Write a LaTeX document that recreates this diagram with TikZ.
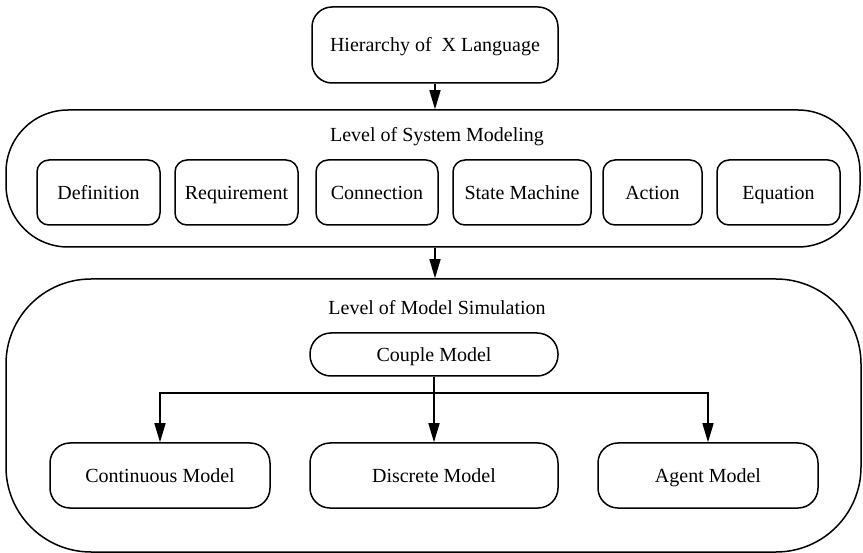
\documentclass[tikz,border=0pt]{standalone}
\usepackage{fontspec}
\setmainfont{Liberation Serif}
\usetikzlibrary{arrows.meta}
\begin{document}
\begin{tikzpicture}[x=1pt,y=-1pt,
  every node/.style={font=\fontsize{20}{22}\selectfont, inner sep=0pt, text height=14pt, text depth=0pt},
  frame/.style={draw, line width=1.5pt, rounded corners=#1},
  level/.style={frame=#1},
  item/.style={frame=12pt, minimum height=65pt},
  model/.style={frame=20pt, minimum width=#1, minimum height=65pt},
  arr/.style={line width=1.5pt, -{Triangle[length=19pt,width=11pt]}}
]
\useasboundingbox (0,0) rectangle (863,553);

% top node
\node[frame=20pt, minimum width=246pt, minimum height=76pt] (top) at (435,45) {Hierarchy of \ X Language};

% level of system modeling
\node[level=62pt, minimum width=854pt, minimum height=137pt] (sys) at (433,178.5) {};
\node (systitle) at (437,135) {Level of System Modeling};
\node[item, minimum width=123pt] (def) at (98.5,192.5) {Definition};
\node[item, minimum width=123pt] (req) at (236.5,192.5) {Requirement};
\node[item, minimum width=122pt] (con) at (377,192.5) {Connection};
\node[item, minimum width=138pt] (stm) at (522,192.5) {State Machine};
\node[item, minimum width=99pt] (act) at (652.5,192.5) {Action};
\node[item, minimum width=123pt] (equ) at (778.5,192.5) {Equation};

% level of model simulation
\node[level=85pt, minimum width=855pt, minimum height=273pt] (sim) at (433.5,415.5) {};
\node (simtitle) at (437,308) {Level of Model Simulation};
\node[frame=21pt, minimum width=248pt, minimum height=43pt] (cpl) at (434,354.5) {Couple Model};
\node[model=220pt] (cont) at (160,475.5) {Continuous Model};
\node[model=248pt] (disc) at (434,475.5) {Discrete Model};
\node[model=220pt] (agent) at (708,475.5) {Agent Model};

% connectors
\draw[arr] (top.south) -- (top.south |- sys.north);
\draw[arr] (top.south |- sys.south) -- (top.south |- sim.north);
\coordinate (br) at (cpl.south |- 0,393);
\draw[arr] (cpl.south) -- (disc.north);
\draw[arr] (br) -| (cont.north);
\draw[arr] (br) -| (agent.north);
\end{tikzpicture}
\end{document}
